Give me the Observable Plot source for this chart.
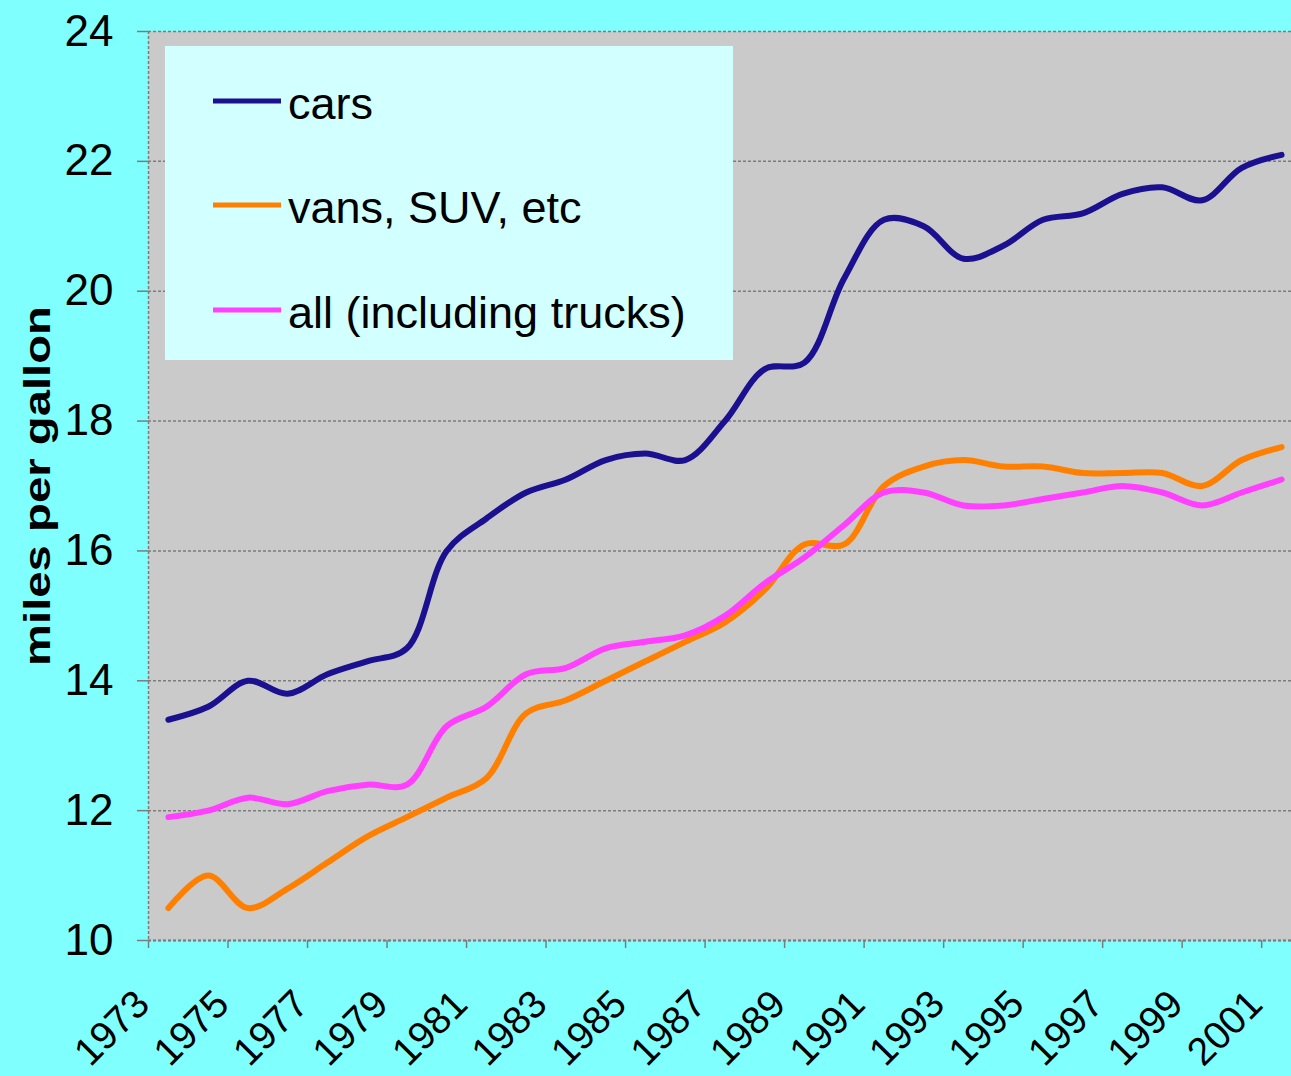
<!DOCTYPE html>
<html>
<head>
<meta charset="utf-8">
<script src="https://cdn.jsdelivr.net/npm/d3@7"></script>
<script src="https://cdn.jsdelivr.net/npm/@observablehq/plot@0.6"></script>
<style>
  html, body { margin: 0; padding: 0; background: #80FFFF; }
  #chart { width: 1291px; height: 1076px; overflow: hidden; background: #80FFFF; }
</style>
</head>
<body>
<div id="chart"></div>
<script>
// ---- data ----
const years = [1973, 1974, 1975, 1976, 1977, 1978, 1979, 1980, 1981, 1982, 1983, 1984, 1985, 1986, 1987,
               1988, 1989, 1990, 1991, 1992, 1993, 1994, 1995, 1996, 1997, 1998, 1999, 2000, 2001];
const cars = [13.4, 13.6, 14.0, 13.8, 14.1, 14.3, 14.5, 16.0, 16.5, 16.9, 17.1, 17.4, 17.5, 17.4, 18.0,
              18.8, 18.9, 20.2, 21.1, 21.0, 20.5, 20.7, 21.1, 21.2, 21.5, 21.6, 21.4, 21.9, 22.1];
const vans = [10.5, 11.0, 10.5, 10.8, 11.2, 11.6, 11.9, 12.2, 12.5, 13.5, 13.7, 14.0, 14.3, 14.6, 14.9,
              15.4, 16.1, 16.1, 17.0, 17.3, 17.4, 17.3, 17.3, 17.2, 17.2, 17.2, 17.0, 17.4, 17.6];
const allVehicles = [11.9, 12.0, 12.2, 12.1, 12.3, 12.4, 12.4, 13.3, 13.6, 14.1, 14.2, 14.5, 14.6, 14.7, 15.0,
                     15.5, 15.9, 16.4, 16.9, 16.9, 16.7, 16.7, 16.8, 16.9, 17.0, 16.9, 16.7, 16.9, 17.1];
const seriesNames = ["cars", "vans, SUV, etc", "all (including trucks)"];
const seriesColors = ["#1a1090", "#ff8000", "#ff40ff"];
const xTickLabels = ["1973", "1975", "1977", "1979", "1981", "1983", "1985", "1987",
                     "1989", "1991", "1993", "1995", "1997", "1999", "2001"];
const yTicks = [10, 12, 14, 16, 18, 20, 22, 24];
const yTitle = "miles per gallon";

// ---- table ----
const table = [];
[cars, vans, allVehicles].forEach((vals, i) =>
  vals.forEach((v, j) => table.push({year: years[j], mpg: v, series: seriesNames[i]})));

const FONT = '"Liberation Sans", Arial, Helvetica, sans-serif';
const GRID = "#7c7c7c";

const chart = Plot.plot({
  width: 1291,
  height: 1076,
  marginLeft: 148,
  marginRight: 0,
  marginTop: 31,
  marginBottom: 136,
  style: {background: "#80FFFF", fontFamily: FONT, color: "#000", overflow: "hidden"},
  x: {domain: [1972.5, 2001.25], axis: null},
  y: {domain: [10, 24], axis: null},
  color: {domain: seriesNames, range: seriesColors},
  marks: [
    Plot.frame({fill: "#cacaca", stroke: null}),
    Plot.gridY(yTicks, {stroke: GRID, strokeOpacity: 1, strokeWidth: 1.5, strokeDasharray: "3,2"}),
    Plot.ruleX([1972.5], {stroke: GRID, strokeWidth: 1.5, strokeDasharray: "3,2"}),
    Plot.ruleY([10], {stroke: GRID, strokeWidth: 2, strokeDasharray: "3,2"}),
    Plot.axisY(yTicks, {
      tickSize: 11, tickPadding: 24, fontSize: 44, stroke: GRID, strokeWidth: 1.5,
      fill: "#000", label: null, tickFormat: d => String(d)
    }),
    Plot.axisX(xTickLabels.map(d => +d - 0.5), {
      tickSize: 8, stroke: GRID, strokeWidth: 1.5, tickFormat: () => "", label: null
    }),
    Plot.text(xTickLabels, {
      x: d => +d - 0.5, frameAnchor: "bottom", text: d => d,
      rotate: -45, textAnchor: "end", lineAnchor: "bottom",
      dx: 3, dy: 66, fontSize: 39, fill: "#000"
    }),
    Plot.text([yTitle], {
      frameAnchor: "left", text: d => d, rotate: -90, textAnchor: "middle", lineAnchor: "middle",
      dx: -110, fontSize: 36, fontWeight: "bold", fill: "#000", className: "ytitle"
    }),
    Plot.line(table, {
      x: "year", y: "mpg", stroke: "series", z: "series",
      strokeWidth: 6, curve: "catmull-rom", strokeLinejoin: "round", strokeLinecap: "round"
    })
  ]
});

// stretch the axis title like the original
d3.select(chart).selectAll(".ytitle text")
  .attr("textLength", 360).attr("lengthAdjust", "spacingAndGlyphs");

// legend box drawn inside the plot area
const svg = d3.select(chart);
const lg = svg.append("g").attr("class", "legend").attr("text-anchor", "start");
lg.append("rect").attr("x", 165).attr("y", 46).attr("width", 568).attr("height", 314)
  .attr("fill", "#d2ffff");
const rowY = [101, 205, 310];
seriesNames.forEach((name, i) => {
  lg.append("line").attr("x1", 213).attr("x2", 281).attr("y1", rowY[i]).attr("y2", rowY[i])
    .attr("stroke", seriesColors[i]).attr("stroke-width", 5);
  lg.append("text").attr("x", 288).attr("y", rowY[i] + 18)
    .attr("text-anchor", "start")
    .attr("font-family", FONT).attr("font-size", 45).attr("fill", "#000").text(name);
});

document.getElementById("chart").appendChild(chart);
</script>
</body>
</html>
